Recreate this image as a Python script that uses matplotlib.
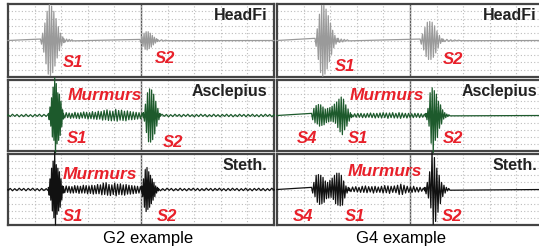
import numpy as np
import matplotlib
matplotlib.use("Agg")
import matplotlib.pyplot as plt

plt.rcParams["font.family"] = ["Liberation Sans", "DejaVu Sans"]

# waveform pieces: (x start, x end, successive peak values), in grid divisions
# HeadFi, G2
hf_g2_s1 = (1.22, 2.10, [0.2, -0.5, 1.0, -1.6, 2.4, -3.2, 4.0, -4.6, 4.9, -4.8, 4.7,
                         -4.4, 4.0, -3.5, 3.0, -2.4, 1.9, -1.4, 1.0, -0.7, 0.5, -0.3])
hf_g2_s1_tail = (2.10, 2.45, [0.25, -0.2, 0.2, -0.15, 0.15, -0.1, 0.1, -0.05])
hf_g2_s2 = (4.96, 5.62, [0.15, -0.3, 0.5, -0.8, 1.0, -1.2, 1.2, -1.3, 1.2, -1.1,
                         1.0, -0.9, 0.7, -0.6, 0.45, -0.35, 0.25, -0.15])
hf_g2_s2_tail = (5.62, 6.00, [0.15, -0.1, 0.1, -0.08, 0.05, -0.03])

# HeadFi, G4
hf_g4_s1 = (1.43, 2.30, [0.3, -0.8, 1.6, -2.6, 3.6, -4.4, 4.8, -4.9, 4.8, -4.6, 4.3,
                         -3.9, 3.4, -2.9, 2.4, -1.9, 1.4, -1.0, 0.7, -0.5, 0.3, -0.2])
hf_g4_s1_tail = (2.30, 2.70, [0.3, -0.25, 0.2, -0.2, 0.15, -0.1, 0.1, -0.05])
hf_g4_s2 = (5.38, 6.24, [0.2, -0.5, 0.9, -1.3, 1.8, -2.2, 2.5, -2.6, 2.6, -2.6,
                         2.5, -2.3, 2.0, -1.7, 1.3, -1.0, 0.7, -0.4, 0.25, -0.15])
hf_g4_s2_tail = (6.24, 6.90, [0.2, -0.15, 0.15, -0.12, 0.1, -0.1, 0.08, -0.05, 0.05, -0.03])

# Asclepius, G2
asc_g2_noise_a = (0.0, 1.52, [0.12, -0.15, 0.18, -0.12, 0.15, -0.18, 0.12, -0.15, 0.18,
                              -0.15, 0.12, -0.18, 0.15, -0.12, 0.18, -0.15, 0.15, -0.12,
                              0.2])
asc_g2_s1 = (1.52, 2.08, [0.3, -0.6, 1.2, -1.5, 2.5, -3.0, 4.0, -3.5, 5.3, -5.6,
                          4.5, -4.0, 3.2, -3.5, 3.0, -2.8, 2.0, -1.6, 0.8, -0.5])
asc_g2_murmur = (2.08, 5.09, [0.3, -0.35, 0.4, -0.3, 0.35, -0.4, 0.3, -0.35, 0.45, -0.4,
                              0.35, -0.45, 0.4, -0.35, 0.5, -0.4, 0.45, -0.5, 0.4, -0.45,
                              0.55, -0.5, 0.45, -0.55, 0.6, -0.5, 0.55, -0.65, 0.7, -0.6,
                              0.8, -0.7, 0.65, -0.75, 0.6, -0.7, 0.85, -0.8, 0.7, -0.65,
                              0.75, -0.7, 0.6, -0.75, 0.65, -0.6, 0.55, -0.6, 0.5, -0.55,
                              0.45, -0.5, 0.4, -0.45, 0.35, -0.3])
asc_g2_s2 = (5.09, 5.71, [0.4, -0.8, 1.6, -2.4, 3.2, -3.7, 3.75, -3.75, 3.6, -3.4,
                          3.0, -2.6, 2.0, -1.5, 1.0, -0.6, 0.3])
asc_g2_noise_b = (5.71, 10.0, [-0.15, 0.18, -0.12, 0.15, -0.18, 0.12, -0.15, 0.18, -0.12,
                               0.15, -0.18, 0.15, -0.12, 0.18, -0.15, 0.12, -0.18, 0.15,
                               -0.15, 0.18, -0.12, 0.15, -0.18, 0.12, -0.15, 0.18, -0.15,
                               0.12, -0.18, 0.15, -0.12, 0.18, -0.15, 0.15, -0.18, 0.12,
                               -0.15, 0.18, -0.12, 0.15, -0.18, 0.15, -0.12, 0.18, -0.15,
                               0.12, -0.18, 0.15, -0.15, 0.18, -0.12, 0.15, -0.18, 0.12])

# Asclepius, G4
asc_g4_s4_s1 = (1.30, 2.80, [0.3, -0.6, 1.0, -1.0, 1.4, -1.2, 1.55, -1.5, 1.5, -1.4,
                             1.2, -1.3, 0.9, -1.0, 1.0, -0.9, 1.1, -0.8, 1.3, -0.9,
                             1.6, -1.1, 1.9, -1.7, 2.3, -2.3, 2.6, -2.7, 2.3, -2.0,
                             1.5, -1.5, 0.9, -0.8, 0.4, -0.3])
asc_g4_murmur = (2.80, 5.60, [0.15, -0.2, 0.25, -0.25, 0.3, -0.25, 0.3, -0.3, 0.25, -0.3,
                              0.3, -0.25, 0.35, -0.3, 0.3, -0.35, 0.3, -0.3, 0.35, -0.35,
                              0.4, -0.3, 0.35, -0.4, 0.35, -0.3, 0.4, -0.35, 0.3, -0.35,
                              0.4, -0.4, 0.35, -0.3, 0.3, -0.35, 0.3, -0.3, 0.25, -0.3,
                              0.3, -0.25, 0.3, -0.3, 0.25, -0.25, 0.2, -0.2])
asc_g4_s2 = (5.60, 6.50, [0.3, -0.6, 1.0, -1.5, 3.2, -3.9, 3.9, -5.3, 3.5, -3.5,
                          3.0, -3.1, 2.0, -1.8, 1.5, -1.2, 0.8, -0.5, 0.4, -0.3,
                          0.2, -0.15, 0.1, -0.05])

# Stethoscope, G2
st_g2_noise_a = (0.0, 1.52, [-0.12, 0.15, -0.18, 0.12, -0.15, 0.18, -0.12, 0.15, -0.18,
                             0.15, -0.12, 0.18, -0.15, 0.12, -0.18, 0.15, -0.15, 0.12,
                             -0.2])
st_g2_s1 = (1.52, 2.08, [0.3, -0.8, 1.5, -1.5, 3.0, -3.0, 4.0, -4.0, 5.3, -5.0,
                         3.5, -3.5, 3.0, -3.0, 2.5, -2.5, 1.5, -1.5, 0.5, -0.5])
st_g2_murmur = (2.08, 5.03, [0.4, -0.45, 0.5, -0.4, 0.45, -0.5, 0.4, -0.5, 0.55, -0.45,
                             0.5, -0.55, 0.45, -0.5, 0.6, -0.5, 0.55, -0.6, 0.5, -0.55,
                             0.6, -0.65, 0.55, -0.6, 0.7, -0.6, 0.65, -0.75, 0.9, -0.7,
                             0.95, -0.8, 0.7, -0.85, 0.65, -0.7, 0.9, -0.9, 0.75, -0.7,
                             0.8, -0.75, 0.65, -0.8, 0.7, -0.65, 0.6, -0.65, 0.55, -0.6,
                             0.5, -0.55, 0.45, -0.5, 0.4, -0.35])
st_g2_s2 = (5.03, 5.65, [0.5, -1.0, 1.5, -2.5, 2.8, -3.1, 3.1, -2.8, 2.5, -2.5,
                         2.0, -2.0, 1.5, -1.5, 1.0, -1.0, 0.5, -0.5, 0.3, -0.2])
st_g2_noise_b = (5.65, 10.0, [0.15, -0.18, 0.12, -0.15, 0.18, -0.12, 0.15, -0.18, 0.12,
                              -0.15, 0.18, -0.15, 0.12, -0.18, 0.15, -0.12, 0.18, -0.15,
                              0.15, -0.18, 0.12, -0.15, 0.18, -0.12, 0.15, -0.18, 0.15,
                              -0.12, 0.18, -0.15, 0.12, -0.18, 0.15, -0.15, 0.18, -0.12,
                              0.15, -0.18, 0.12, -0.15, 0.18, -0.15, 0.12, -0.18, 0.15,
                              -0.12, 0.18, -0.15, 0.15, -0.18, 0.12, -0.15, 0.18, -0.12])

# Stethoscope, G4
st_g4_s4_s1 = (1.30, 2.72, [0.3, -0.5, 1.0, -1.0, 2.0, -1.8, 2.1, -2.1, 2.0, -2.0,
                            1.7, -1.8, 1.2, -1.3, 1.0, -1.2, 1.3, -1.1, 1.6, -1.4,
                            2.0, -2.0, 2.3, -2.2, 2.3, -2.3, 2.0, -2.2, 1.2, -1.2,
                            0.5, -0.5, 0.3, -0.2])
st_g4_murmur = (2.72, 5.56, [0.2, -0.3, 0.35, -0.3, 0.4, -0.35, 0.3, -0.4, 0.45, -0.4,
                             0.5, -0.45, 0.4, -0.35, 0.4, -0.5, 0.45, -0.4, 0.35, -0.4,
                             0.45, -0.5, 0.55, -0.45, 0.5, -0.55, 0.45, -0.4, 0.5, -0.45,
                             0.6, -0.7, 0.75, -0.7, 0.6, -0.5, 0.45, -0.4, 0.35, -0.4,
                             0.45, -0.35, 0.3, -0.35, 0.3, -0.25, 0.2, -0.2])
st_g4_s2 = (5.56, 6.50, [0.3, -0.6, 1.0, -1.2, 2.5, -2.6, 5.3, -4.9, 4.5, -4.5,
                         3.0, -3.2, 2.0, -2.0, 1.0, -1.0, 0.6, -0.5, 0.3, -0.2,
                         0.15, -0.1])

device_names = ["HeadFi", "Asclepius", "Steth."]
device_colors = ["#9a9a9a", "#1d5a2c", "#111111"]
column_titles = ["G2 example", "G4 example"]

traces = {
    (0, 0): [hf_g2_s1, hf_g2_s1_tail, hf_g2_s2, hf_g2_s2_tail],
    (0, 1): [hf_g4_s1, hf_g4_s1_tail, hf_g4_s2, hf_g4_s2_tail],
    (1, 0): [asc_g2_noise_a, asc_g2_s1, asc_g2_murmur, asc_g2_s2, asc_g2_noise_b],
    (1, 1): [asc_g4_s4_s1, asc_g4_murmur, asc_g4_s2],
    (2, 0): [st_g2_noise_a, st_g2_s1, st_g2_murmur, st_g2_s2, st_g2_noise_b],
    (2, 1): [st_g4_s4_s1, st_g4_murmur, st_g4_s2],
}

# annotation text and where it sits (grid divisions)
annotations = {
    (0, 0): [("S1", 2.07, -2.95), ("S2", 5.53, -2.4)],
    (0, 1): [("S1", 2.18, -3.5), ("S2", 6.24, -2.67)],
    (1, 0): [("Murmurs", 2.26, 2.8), ("S1", 2.22, -3.25), ("S2", 5.83, -3.8)],
    (1, 1): [("Murmurs", 2.74, 2.8), ("S4", 0.75, -3.3), ("S1", 2.67, -3.3), ("S2", 6.24, -3.3)],
    (2, 0): [("Murmurs", 2.07, 2.15), ("S1", 2.07, -3.75), ("S2", 5.6, -3.75)],
    (2, 1): [("Murmurs", 2.67, 2.6), ("S4", 0.6, -3.75), ("S1", 2.56, -3.75), ("S2", 6.2, -3.75)],
}


def build_trace(pieces):
    xs, ys = [0.0], [0.0]
    for x0, x1, vals in pieces:
        xs.extend(np.linspace(x0, x1, len(vals)))
        ys.extend(vals)
    xs.append(10.0)
    ys.append(0.0)
    return np.array(xs), np.array(ys)


def draw_panel(ax, row, col):
    ax.set_xlim(0, 10)
    ax.set_ylim(-5, 5)
    ax.set_xticks(range(1, 10))
    ax.set_yticks(range(-4, 5))
    ax.tick_params(length=0, labelbottom=False, labelleft=False)
    ax.grid(True, color="#bdbdbd", linestyle=(0, (1, 2)), linewidth=0.8)
    ax.axvline(5, color="#5a5a5a", linewidth=1.0, zorder=1)
    for spine in ax.spines.values():
        spine.set_color("#444444")
        spine.set_linewidth(1.6)

    x, y = build_trace(traces[(row, col)])
    ax.plot(x, y, color=device_colors[row], linewidth=0.9, clip_on=False, zorder=3)

    right = 9.77 if col else 9.75
    ax.text(right, 3.4, device_names[row], ha="right", va="center",
            fontsize=11.5, fontweight="bold", color="#222222", zorder=4)
    for label, lx, ly in annotations[(row, col)]:
        size = 12.5 if label == "Murmurs" else 12
        ax.text(lx, ly, label, ha="left", va="center", fontsize=size,
                fontweight="bold", fontstyle="italic", color="#e8202a", zorder=4)


def main():
    fig = plt.figure(figsize=(5.39, 2.5), dpi=100)
    W, H = 539.0, 250.0
    col_left = [8, 277]
    row_top = [4, 80, 154]
    row_height = [73, 71, 71]
    for row in range(3):
        for col in range(2):
            ax = fig.add_axes([col_left[col] / W, 1 - (row_top[row] + row_height[row]) / H,
                               266 / W, row_height[row] / H])
            draw_panel(ax, row, col)

    fig.text(148 / W, 1 - 238 / H, column_titles[0], ha="center", va="center", fontsize=12)
    fig.text(401 / W, 1 - 238 / H, column_titles[1], ha="center", va="center", fontsize=12)
    fig.savefig("out.png", dpi=100)


if __name__ == "__main__":
    main()
